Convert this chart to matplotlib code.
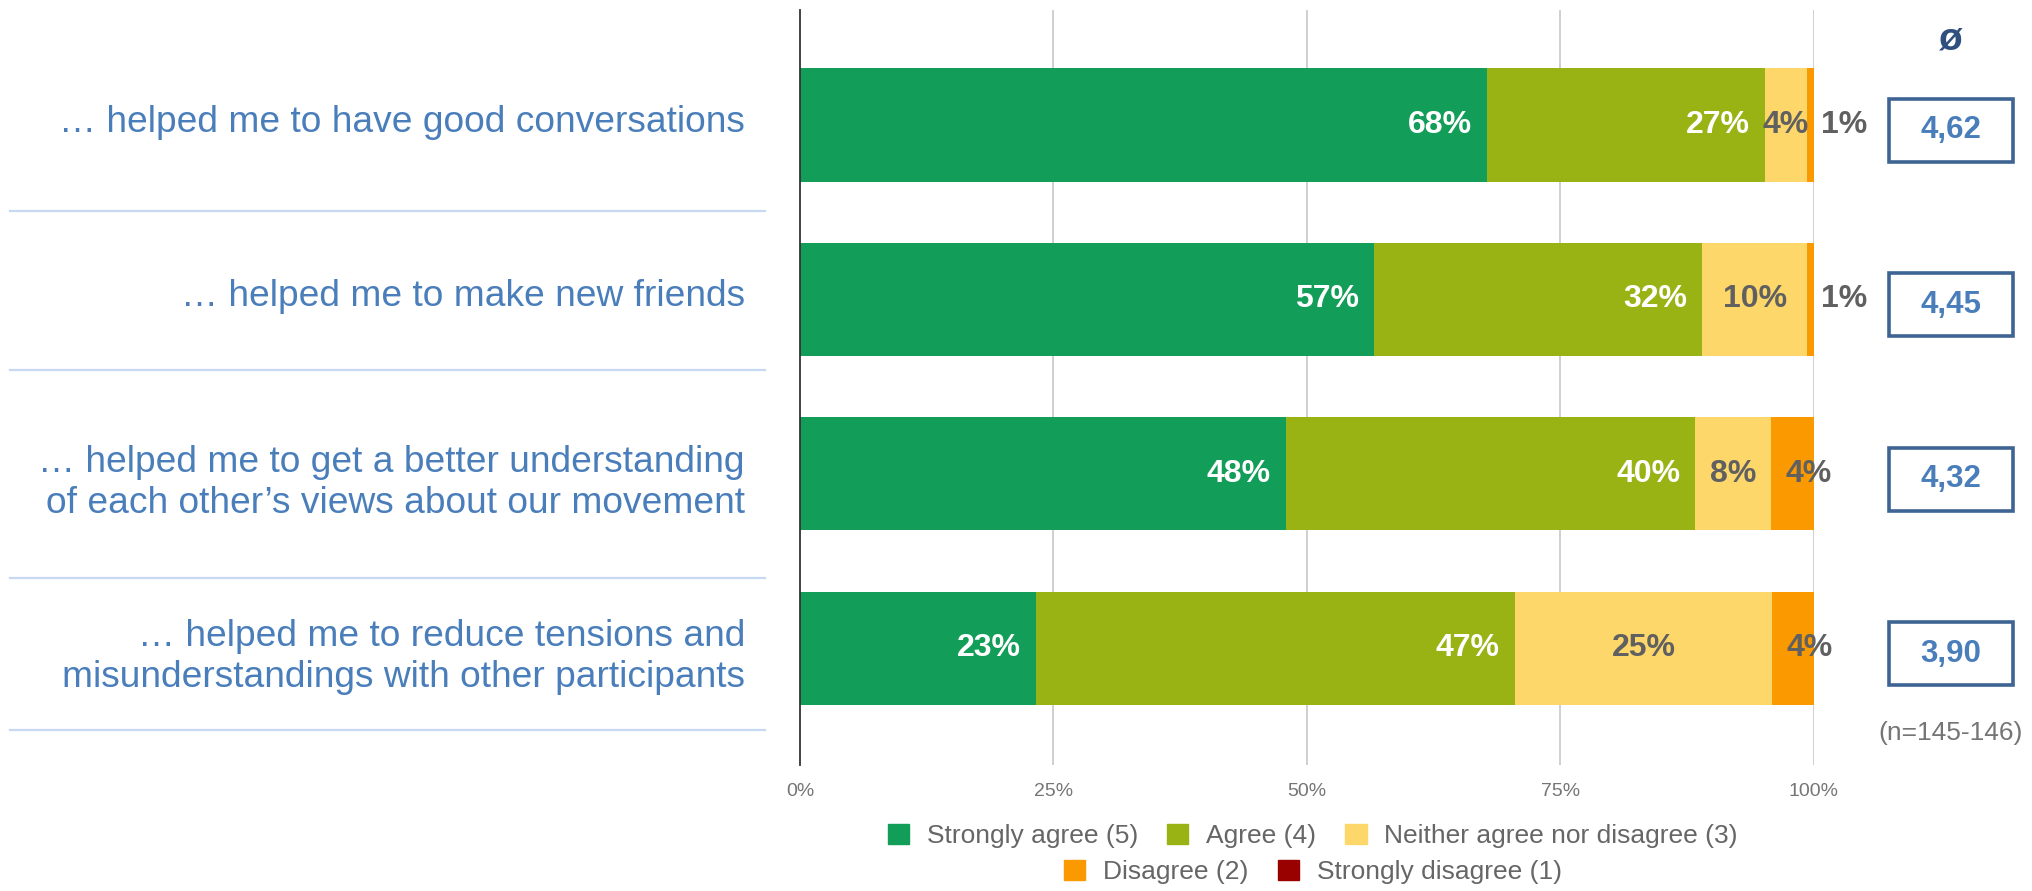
import numpy as np
import matplotlib
matplotlib.use("Agg")
import matplotlib.pyplot as plt
from matplotlib.patches import Rectangle, Patch
from matplotlib.lines import Line2D
from matplotlib.transforms import blended_transform_factory

plt.rcParams["font.family"] = ["Liberation Sans", "DejaVu Sans"]

statements = [
    "\u2026 helped me to have good conversations",
    "\u2026 helped me to make new friends",
    "\u2026 helped me to get a better understanding\nof each other\u2019s views about our movement",
    "\u2026 helped me to reduce tensions and\nmisunderstandings with other participants",
]
categories = ["Strongly agree (5)", "Agree (4)", "Neither agree nor disagree (3)",
              "Disagree (2)", "Strongly disagree (1)"]
strongly_agree = [67.8, 56.6, 47.9, 23.3]
agree = [27.4, 32.4, 40.4, 47.2]
neither = [4.1, 10.3, 7.5, 25.4]
disagree = [0.7, 0.7, 4.2, 4.1]
strongly_disagree = [0.0, 0.0, 0.0, 0.0]
shown_pct = [
    [68, 57, 48, 23],
    [27, 32, 40, 47],
    [4, 10, 8, 25],
    [1, 1, 4, 4],
]
averages = ["4,62", "4,45", "4,32", "3,90"]
xticks = [0, 25, 50, 75, 100]

colors = ["#129D58", "#99B314", "#FDD76A", "#FB9900", "#990000"]
label_blue = "#4A7EBB"
box_blue = "#3E6494"
gray = "#606060"

W, H = 2033, 891
fig = plt.figure(figsize=(W / 100, H / 100), dpi=100)
ax = fig.add_axes([800 / W, 1 - 765 / H, 1014 / W, 755 / H])

y = np.arange(len(statements))
series = [strongly_agree, agree, neither, disagree, strongly_disagree]
left = np.zeros(len(statements))
for vals, c in zip(series, colors):
    ax.barh(y, vals, left=left, height=0.648, color=c, zorder=2)
    left = left + np.array(vals)

# value labels
starts = np.cumsum([np.zeros(4)] + series[:-1], axis=0)
for i in range(len(statements)):
    for k in range(2):
        end = starts[k][i] + series[k][i]
        ax.text(end - 1.5, y[i], f"{shown_pct[k][i]}%", ha="right", va="center",
                color="white", fontsize=23, fontweight="bold", zorder=3)
    mid = starts[2][i] + neither[i] / 2
    ax.text(mid, y[i], f"{shown_pct[2][i]}%", ha="center", va="center",
            color=gray, fontsize=23, fontweight="bold", zorder=3)
    if disagree[i] < 2:
        xd = 100.7
    else:
        xd = starts[3][i] + 1.4
    ax.text(xd, y[i], f"{shown_pct[3][i]}%", ha="left", va="center",
            color=gray, fontsize=23, fontweight="bold", zorder=3)

ax.set_xlim(0, 100)
ax.set_ylim(3.668, -0.659)
ax.set_xticks(xticks)
ax.set_xticklabels([f"{t}%" for t in xticks], color="#757575", fontsize=14)
ax.tick_params(axis="x", length=0, pad=13)
ax.set_yticks([])
for t in xticks[1:]:
    ax.axvline(t, color="#CCCCCC", lw=1.3, zorder=1)
for s in ["top", "right", "bottom"]:
    ax.spines[s].set_visible(False)
ax.spines["left"].set_color("#333333")
ax.spines["left"].set_linewidth(1.3)

# left labels
tr = blended_transform_factory(fig.transFigure, ax.transData)
for i, s in enumerate(statements):
    dy = 0.05 if "\n" in s else -0.015
    ax.text(745 / W, y[i] + dy, s, transform=tr, ha="right", va="center",
            color=label_blue, fontsize=26.7, linespacing=1.22, clip_on=False)

# separator lines
for yy in [211, 369.5, 578, 730]:
    fig.add_artist(Line2D([10 / W, 765 / W], [1 - yy / H, 1 - yy / H],
                          color="#C6D9F1", lw=1.6))

# average boxes
bx = 1951 / W
bw, bh = 124 / W, 0.36
for i, a in enumerate(averages):
    cy = y[i] + 0.03
    ax.add_patch(Rectangle((bx - bw / 2, cy - bh / 2), bw, bh, transform=tr,
                           facecolor="white", edgecolor=box_blue, lw=2.6, clip_on=False))
    ax.text(bx, cy, a, transform=tr, ha="center", va="center",
            color=label_blue, fontsize=22.5, fontweight="bold", clip_on=False)

fig.text(bx, 1 - 39 / H, "\u00f8", ha="center", va="center",
         color="#2F4F7F", fontsize=28, fontweight="bold")
fig.text(bx, 1 - 733 / H, "(n=145-146)", ha="center", va="center",
         color="#757575", fontsize=19)

# legend in two centered rows
handles = [Patch(facecolor=c, edgecolor=c) for c in colors]
leg_kw = dict(frameon=False, fontsize=19, labelcolor="#666666", handlelength=0.8,
              handleheight=0.8, handletextpad=0.68, columnspacing=1.1,
              loc="center", bbox_transform=fig.transFigure)
leg1 = ax.legend(handles[:3], categories[:3], ncol=3,
                 bbox_to_anchor=(1313 / W, 1 - 836 / H), **leg_kw)
ax.add_artist(leg1)
ax.legend(handles[3:], categories[3:], ncol=2,
          bbox_to_anchor=(1313 / W, 1 - 872 / H), **leg_kw)

fig.savefig("out.png", dpi=100)
